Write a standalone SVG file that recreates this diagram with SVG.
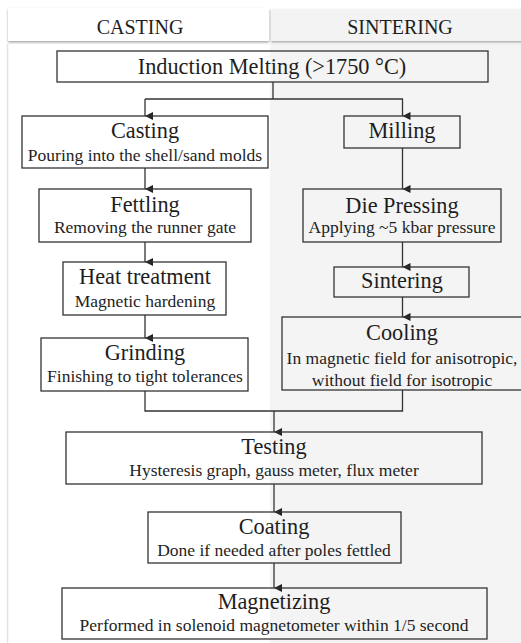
<svg xmlns="http://www.w3.org/2000/svg" width="521" height="643" viewBox="0 0 521 643">
<style>
.box{fill:none;stroke:#333;stroke-width:1.3}
.c{fill:none;stroke:#333;stroke-width:1.3}
</style>
<defs>
<marker id="ah" markerUnits="userSpaceOnUse" markerWidth="8" markerHeight="9" refX="4" refY="8" orient="auto" viewBox="0 0 8 9">
<path d="M0,0 L8,0 L4,8 Z" fill="#222"/>
</marker>
<filter id="sh" x="-5%" y="-20%" width="110%" height="150%">
<feDropShadow dx="0" dy="1.5" stdDeviation="1.2" flood-color="#000" flood-opacity="0.35"/>
</filter>
</defs>
<rect x="0" y="0" width="521" height="643" fill="#fff"/>
<g id="panels">
<rect x="8" y="44" width="262" height="599" fill="#fff"/>
<rect x="270" y="44" width="251" height="599" fill="#f4f4f4"/>
<line x1="7.5" y1="44" x2="7.5" y2="643" stroke="#e4e4e4" stroke-width="1.5"/>
</g>
<g id="header-casting">
<rect x="8" y="8" width="261" height="33" fill="#fff" filter="url(#sh)"/>
<text x="140" y="34" font-family="Liberation Serif" font-size="20" fill="#1e1e1e" text-anchor="middle">CASTING</text>
</g>
<g id="header-sintering">
<rect x="271" y="9" width="252" height="32" fill="#f3f3f3" filter="url(#sh)"/>
<text x="400" y="34" font-family="Liberation Serif" font-size="20" fill="#1e1e1e" text-anchor="middle">SINTERING</text>
</g>
<g id="connectors">
<path class="c" d="M273,82 V99"/>
<path class="c" d="M145,99 H403"/>
<path class="c" d="M145,99 V116" marker-end="url(#ah)"/>
<path class="c" d="M402.5,99 V116" marker-end="url(#ah)"/>
<path class="c" d="M145,168 V189" marker-end="url(#ah)"/>
<path class="c" d="M145,242 V262" marker-end="url(#ah)"/>
<path class="c" d="M145,315 V338" marker-end="url(#ah)"/>
<path class="c" d="M402.5,148 V189" marker-end="url(#ah)"/>
<path class="c" d="M402.5,242 V267" marker-end="url(#ah)"/>
<path class="c" d="M402.5,297 V317" marker-end="url(#ah)"/>
<path class="c" d="M145,391 V411 H402.5 V390"/>
<path class="c" d="M274,411 V432" marker-end="url(#ah)"/>
<path class="c" d="M274,484 V512" marker-end="url(#ah)"/>
<path class="c" d="M274,563 V588" marker-end="url(#ah)"/>
</g>
<g id="induction-melting" font-family="Liberation Serif" fill="#1e1e1e" text-anchor="middle">
<rect class="box" x="57" y="51" width="431" height="31"/>
<text x="272" y="74" font-size="22.3">Induction Melting (&gt;1750 °C)</text>
</g>
<g id="casting" font-family="Liberation Serif" fill="#1e1e1e" text-anchor="middle">
<rect class="box" x="22" y="116" width="246" height="52"/>
<text x="145" y="138" font-size="22.3">Casting</text>
<text x="145" y="161" font-size="17.5">Pouring into the shell/sand molds</text>
</g>
<g id="fettling" font-family="Liberation Serif" fill="#1e1e1e" text-anchor="middle">
<rect class="box" x="39" y="189" width="212" height="53"/>
<text x="145" y="212" font-size="22.3">Fettling</text>
<text x="145" y="233" font-size="17.5">Removing the runner gate</text>
</g>
<g id="heat-treatment" font-family="Liberation Serif" fill="#1e1e1e" text-anchor="middle">
<rect class="box" x="63" y="262" width="163" height="53"/>
<text x="145" y="284" font-size="22.3">Heat treatment</text>
<text x="145" y="307" font-size="17.5">Magnetic hardening</text>
</g>
<g id="grinding" font-family="Liberation Serif" fill="#1e1e1e" text-anchor="middle">
<rect class="box" x="41" y="338" width="207" height="53"/>
<text x="145" y="360" font-size="22.3">Grinding</text>
<text x="145" y="382" font-size="17.5">Finishing to tight tolerances</text>
</g>
<g id="milling" font-family="Liberation Serif" fill="#1e1e1e" text-anchor="middle">
<rect class="box" x="344" y="116" width="116" height="32"/>
<text x="402" y="138" font-size="22.3">Milling</text>
</g>
<g id="die-pressing" font-family="Liberation Serif" fill="#1e1e1e" text-anchor="middle">
<rect class="box" x="303" y="189" width="198" height="53"/>
<text x="402" y="213" font-size="22.3">Die Pressing</text>
<text x="402" y="233" font-size="17.5">Applying ~5 kbar pressure</text>
</g>
<g id="sintering" font-family="Liberation Serif" fill="#1e1e1e" text-anchor="middle">
<rect class="box" x="334" y="267" width="135" height="30"/>
<text x="402" y="288" font-size="22.3">Sintering</text>
</g>
<g id="cooling" font-family="Liberation Serif" fill="#1e1e1e" text-anchor="middle">
<rect class="box" x="282" y="317" width="240" height="73"/>
<text x="402" y="340" font-size="22.3">Cooling</text>
<text x="402" y="364" font-size="17.5">In magnetic field for anisotropic,</text>
<text x="402" y="386" font-size="17.5">without field for isotropic</text>
</g>
<g id="testing" font-family="Liberation Serif" fill="#1e1e1e" text-anchor="middle">
<rect class="box" x="66" y="432" width="416" height="52"/>
<text x="274" y="454" font-size="22.3">Testing</text>
<text x="274" y="476" font-size="17.5">Hysteresis graph, gauss meter, flux meter</text>
</g>
<g id="coating" font-family="Liberation Serif" fill="#1e1e1e" text-anchor="middle">
<rect class="box" x="148" y="512" width="253" height="51"/>
<text x="274" y="534" font-size="22.3">Coating</text>
<text x="274" y="556" font-size="17.5">Done if needed after poles fettled</text>
</g>
<g id="magnetizing" font-family="Liberation Serif" fill="#1e1e1e" text-anchor="middle">
<rect class="box" x="62" y="588" width="425" height="51"/>
<text x="274" y="609" font-size="22.3">Magnetizing</text>
<text x="274" y="631" font-size="17.5">Performed in solenoid magnetometer within 1/5 second</text>
</g>
</svg>
